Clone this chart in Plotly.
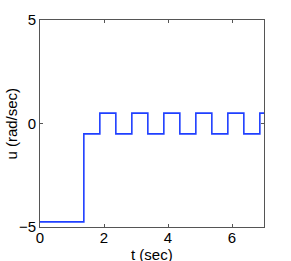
import plotly.graph_objects as go

# data
t_switch = [0, 1.37, 1.87, 2.37, 2.87, 3.37, 3.87, 4.37, 4.87, 5.37, 5.87, 6.37, 6.87, 7.0]
u_level = [-4.75, -0.5, 0.5, -0.5, 0.5, -0.5, 0.5, -0.5, 0.5, -0.5, 0.5, -0.5, 0.5, 0.5]
x_ticks = [0, 2, 4, 6]
y_ticks = [-5, 0, 5]
x_title = "t (sec)"
y_title = "u (rad/sec)"

fig = go.Figure()
fig.add_trace(go.Scatter(x=t_switch, y=u_level, mode="lines", line_shape="hv",
                         line=dict(color="#1f3fff", width=1.6), showlegend=False))

font = dict(family="Liberation Sans, Arial, sans-serif", size=15, color="black")
axis_common = dict(showgrid=False, zeroline=False, showline=True, linecolor="#555",
                   linewidth=1, mirror="ticks", ticks="inside", ticklen=3,
                   tickcolor="#555", tickfont=font, automargin=False)
fig.update_layout(
    width=291, height=261,
    margin=dict(l=40, r=27, t=20, b=34),
    paper_bgcolor="white", plot_bgcolor="white",
    font=font,
    xaxis=dict(range=[0, 7], tickvals=x_ticks, ticklabelstandoff=-3, **axis_common),
    yaxis=dict(range=[-5, 5], tickvals=y_ticks, ticklabelstandoff=0, **axis_common),
    annotations=[
        dict(text=x_title, xref="paper", yref="paper", x=0.5, y=-0.132,
             xanchor="center", yanchor="middle", showarrow=False, font=font),
        dict(text=y_title, xref="paper", yref="paper", x=-0.129, y=0.5, textangle=-90,
             xanchor="center", yanchor="middle", showarrow=False, font=font),
    ],
)
fig.write_html("out.html", config={"displayModeBar": False},
               post_script="document.body.style.margin='0';document.body.style.overflow='hidden';")
